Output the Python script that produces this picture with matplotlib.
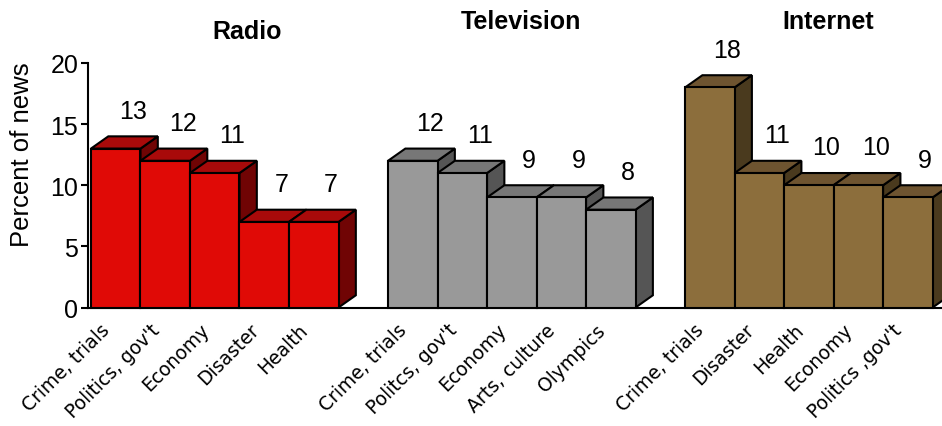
import matplotlib
matplotlib.use("Agg")
import matplotlib.pyplot as plt
from matplotlib.patches import Polygon

# =========================
# Datos
# =========================

grupos = ["Radio", "Television", "Internet"]

radio_temas = ["Crime, trials", "Politics, gov't", "Economy", "Disaster", "Health"]
radio_valores = [13, 12, 11, 7, 7]

tv_temas = ["Crime, trials", "Politcs, gov't", "Economy", "Arts, culture", "Olympics"]
tv_valores = [12, 11, 9, 9, 8]

internet_temas = ["Crime, trials", "Disaster", "Health", "Economy", "Politics ,gov't"]
internet_valores = [18, 11, 10, 10, 9]

# colores: frente, tapa, lado
colores = {
    "Radio": ("#e00a06", "#a80a0a", "#700404"),
    "Television": ("#999999", "#777777", "#555555"),
    "Internet": ("#8c6e3c", "#6e5430", "#4a3a1e"),
}

# =========================
# Figura
# =========================

FUENTE_NUM = "Liberation Sans"
PROF_X = 0.35   # profundidad 3D en unidades de barra
PROF_Y = 1.0    # profundidad 3D en unidades del eje y

fig = plt.figure(figsize=(9.42, 4.27), dpi=100)
ax = fig.add_axes([88 / 942, 118.5 / 427, 1 - 88 / 942, (308.5 - 64) / 427])

ax.set_xlim(-0.06, 17.19)
ax.set_ylim(0, 20)


def barra_3d(ax, x, alto, frente, tapa, lado):
    kw = dict(edgecolor="black", linewidth=1.5, joinstyle="miter", clip_on=False)
    ax.add_patch(Polygon([(x + 1, 0), (x + 1 + PROF_X, PROF_Y),
                          (x + 1 + PROF_X, alto + PROF_Y), (x + 1, alto)],
                         facecolor=lado, **kw))
    ax.add_patch(Polygon([(x, alto), (x + PROF_X, alto + PROF_Y),
                          (x + 1 + PROF_X, alto + PROF_Y), (x + 1, alto)],
                         facecolor=tapa, **kw))
    ax.add_patch(Polygon([(x, 0), (x + 1, 0), (x + 1, alto), (x, alto)],
                         facecolor=frente, **kw))


datos = [
    ("Radio", radio_temas, radio_valores),
    ("Television", tv_temas, tv_valores),
    ("Internet", internet_temas, internet_valores),
]

for g, (nombre, temas, valores) in enumerate(datos):
    frente, tapa, lado = colores[nombre]
    for i, (tema, valor) in enumerate(zip(temas, valores)):
        x = g * 6 + i
        barra_3d(ax, x, valor, frente, tapa, lado)
        ax.text(x + 0.5 + PROF_X, valor + 3.1, str(valor), ha="center", va="center",
                fontsize=18, family=FUENTE_NUM, clip_on=False)
        ax.annotate(tema, xy=(x + 0.5, 0), xycoords="data",
                    xytext=(-11, -9), textcoords="offset points",
                    rotation=45, rotation_mode="anchor", ha="right", va="top",
                    fontsize=13.5, family="DejaVu Sans", annotation_clip=False)

# Ejes
ax.spines["top"].set_visible(False)
ax.spines["right"].set_visible(False)
ax.spines["left"].set_linewidth(1.5)
ax.spines["bottom"].set_linewidth(1.5)
ax.spines["bottom"].set_zorder(0)
ax.set_xticks([])
ax.set_yticks([0, 5, 10, 15, 20])
ax.tick_params(axis="y", length=5, width=1.5, pad=2, labelsize=18)
for lbl in ax.get_yticklabels():
    lbl.set_family(FUENTE_NUM)

fig.text(22 / 942, 1 - 155 / 427, "Percent of news", rotation=90, ha="center", va="center",
         fontsize=18.5, family=FUENTE_NUM)

# Títulos de cada medio
for nombre, (px, py) in zip(grupos, [(247, 32), (521, 22), (828, 22)]):
    fig.text(px / 942, 1 - py / 427, nombre, ha="center", va="center",
             fontsize=18, fontweight="bold", family=FUENTE_NUM)

fig.savefig("out.png", dpi=100)
